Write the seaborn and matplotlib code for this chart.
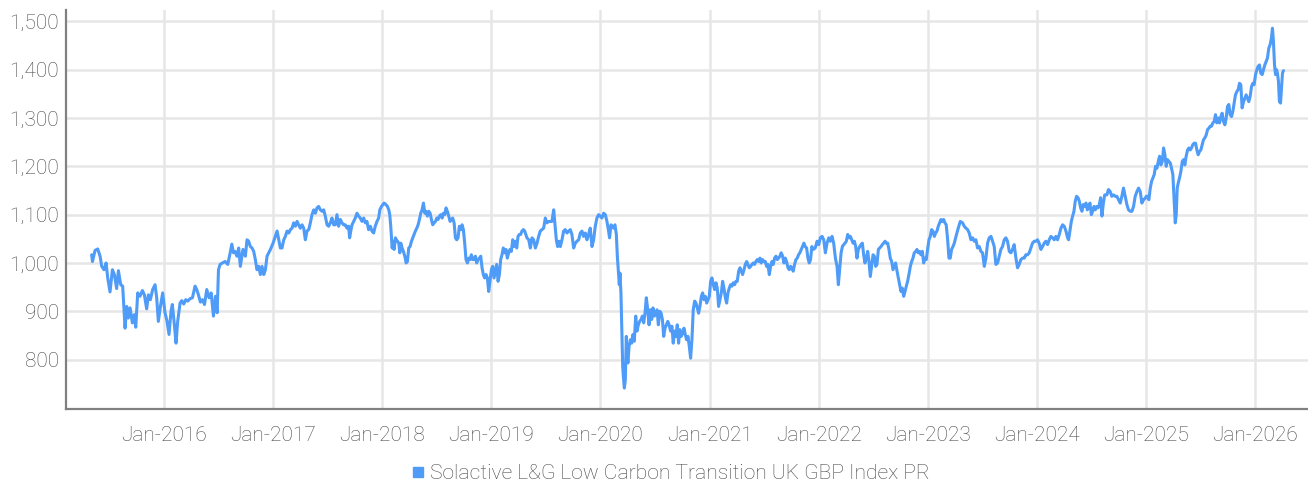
import pandas as pd
import matplotlib
matplotlib.use('Agg')
import matplotlib.pyplot as plt
import matplotlib.dates as mdates
from matplotlib.ticker import FixedLocator, FuncFormatter
from matplotlib.lines import Line2D
import seaborn as sns

# =====================
# DATA (decimal years -> index level)
# =====================
SERIES_NAME = 'Solactive L&G Low Carbon Transition UK GBP Index PR'

years_a = [2015.340, 2015.347, 2015.371, 2015.395, 2015.417, 2015.432, 2015.453, 2015.472, 2015.487, 2015.508,
           2015.530, 2015.548, 2015.569, 2015.585, 2015.606, 2015.624, 2015.646, 2015.661, 2015.676, 2015.692,
           2015.713, 2015.731, 2015.744, 2015.762, 2015.783, 2015.805, 2015.823, 2015.844, 2015.860, 2015.878,
           2015.899, 2015.921, 2015.936, 2015.951, 2015.973, 2015.991, 2016.012, 2016.031, 2016.049, 2016.067,
           2016.079, 2016.098, 2016.113, 2016.128, 2016.150, 2016.165, 2016.183, 2016.202, 2016.220, 2016.241,
           2016.263, 2016.287, 2016.302, 2016.318, 2016.336, 2016.354, 2016.373, 2016.394, 2016.415, 2016.434,
           2016.455, 2016.473, 2016.489, 2016.501, 2016.516, 2016.537, 2016.562, 2016.586, 2016.608, 2016.623,
           2016.638, 2016.653]
values_a = [1017, 1003, 1026, 1029, 1014, 993, 986, 1000, 969, 940,
            986, 976, 947, 984, 955, 952, 865, 910, 886, 907,
            876, 893, 867, 938, 931, 943, 934, 905, 934, 924,
            945, 955, 928, 879, 914, 938, 897, 879, 852, 900,
            914, 872, 834, 879, 917, 922, 915, 924, 921, 926,
            928, 952, 945, 934, 919, 924, 914, 945, 928, 938,
            890, 931, 897, 986, 997, 1000, 1003, 997, 1021, 1039,
            1021, 1024]

years_b = [2016.670, 2016.686, 2016.701, 2016.725, 2016.747, 2016.762, 2016.777, 2016.792, 2016.808, 2016.823,
           2016.838, 2016.853, 2016.869, 2016.884, 2016.899, 2016.915, 2016.930, 2016.945, 2016.960, 2016.976,
           2017.000, 2017.021, 2017.037, 2017.052, 2017.067, 2017.082, 2017.098, 2017.113, 2017.128, 2017.144,
           2017.159, 2017.174, 2017.189, 2017.205, 2017.220, 2017.235, 2017.250, 2017.266, 2017.281, 2017.296,
           2017.311, 2017.327, 2017.342, 2017.357, 2017.373, 2017.388, 2017.403, 2017.418, 2017.434, 2017.449,
           2017.464, 2017.479, 2017.495, 2017.510, 2017.525, 2017.540, 2017.556, 2017.571, 2017.586, 2017.601,
           2017.617, 2017.632, 2017.647, 2017.662, 2017.678, 2017.693, 2017.702, 2017.715, 2017.724, 2017.739,
           2017.754, 2017.769, 2017.785, 2017.800, 2017.815, 2017.831, 2017.846, 2017.861, 2017.876, 2017.892,
           2017.907, 2017.922, 2017.937, 2017.953, 2017.968]
values_b = [1014, 1031, 993, 1028, 1014, 1048, 1045, 1034, 1031, 1024,
            1007, 986, 993, 976, 993, 976, 986, 1014, 1021, 1028,
            1041, 1055, 1066, 1048, 1031, 1031, 1048, 1055, 1066, 1062,
            1069, 1072, 1083, 1076, 1086, 1079, 1072, 1079, 1072, 1048,
            1066, 1069, 1083, 1100, 1110, 1103, 1114, 1117, 1110, 1107,
            1110, 1097, 1079, 1076, 1083, 1093, 1079, 1079, 1100, 1076,
            1090, 1083, 1079, 1079, 1072, 1076, 1052, 1069, 1079, 1086,
            1093, 1103, 1097, 1093, 1086, 1093, 1083, 1086, 1069, 1076,
            1066, 1062, 1076, 1086, 1093]

years_c = [2017.979, 2017.994, 2018.018, 2018.034, 2018.049, 2018.061, 2018.070, 2018.079, 2018.092, 2018.101,
           2018.110, 2018.122, 2018.131, 2018.140, 2018.153, 2018.162, 2018.171, 2018.183, 2018.195, 2018.208,
           2018.220, 2018.232, 2018.244, 2018.256, 2018.269, 2018.281, 2018.293, 2018.305, 2018.318, 2018.330,
           2018.342, 2018.354, 2018.366, 2018.379, 2018.391, 2018.403, 2018.415, 2018.427, 2018.440, 2018.452,
           2018.464, 2018.476, 2018.489, 2018.501, 2018.513, 2018.525, 2018.537, 2018.550, 2018.562, 2018.574,
           2018.586, 2018.598, 2018.611, 2018.623, 2018.635, 2018.647, 2018.660, 2018.672, 2018.684, 2018.696,
           2018.708, 2018.721, 2018.733, 2018.745, 2018.757, 2018.769, 2018.782, 2018.794, 2018.806, 2018.818,
           2018.830, 2018.843, 2018.855, 2018.867, 2018.879, 2018.892, 2018.904, 2018.916, 2018.928, 2018.940,
           2018.953, 2018.965, 2018.977, 2018.989, 2019.002, 2019.014, 2019.026, 2019.038, 2019.050, 2019.063,
           2019.075, 2019.087, 2019.099, 2019.111, 2019.124, 2019.136, 2019.148, 2019.160, 2019.172, 2019.185,
           2019.197, 2019.209, 2019.221, 2019.234, 2019.246, 2019.258, 2019.270, 2019.282, 2019.295, 2019.307]
values_c = [1110, 1117, 1124, 1121, 1117, 1110, 1100, 1076, 1031, 1045,
            1028, 1052, 1048, 1045, 1041, 1021, 1041, 1031, 1024, 1014,
            1000, 1003, 1031, 1034, 1045, 1052, 1059, 1066, 1072, 1079,
            1090, 1103, 1110, 1124, 1103, 1107, 1097, 1107, 1103, 1090,
            1079, 1083, 1086, 1093, 1090, 1097, 1100, 1093, 1103, 1100,
            1114, 1107, 1097, 1086, 1090, 1093, 1083, 1052, 1048, 1052,
            1076, 1069, 1079, 1069, 1041, 1007, 1000, 1010, 1007, 1017,
            1007, 1007, 1014, 1000, 1007, 1010, 1014, 990, 976, 969,
            976, 969, 941, 962, 986, 993, 969, 983, 997, 962,
            976, 1007, 1017, 1031, 1021, 1028, 1010, 1021, 1028, 1024,
            1048, 1034, 1045, 1031, 1055, 1059, 1059, 1066, 1069, 1066]

years_d = [2019.328, 2019.344, 2019.359, 2019.374, 2019.389, 2019.405, 2019.420, 2019.435, 2019.450, 2019.466,
           2019.481, 2019.496, 2019.511, 2019.527, 2019.542, 2019.557, 2019.573, 2019.585, 2019.597, 2019.609,
           2019.621, 2019.634, 2019.649, 2019.664, 2019.679, 2019.695, 2019.710, 2019.725, 2019.740, 2019.756,
           2019.771, 2019.786, 2019.802, 2019.817, 2019.832, 2019.847, 2019.863, 2019.878, 2019.893, 2019.908,
           2019.924, 2019.939, 2019.954, 2019.969, 2019.985, 2020.000, 2020.015, 2020.031, 2020.046, 2020.061,
           2020.076, 2020.085, 2020.098, 2020.110, 2020.122, 2020.134, 2020.147, 2020.156, 2020.165, 2020.174,
           2020.180, 2020.189, 2020.198, 2020.205, 2020.211, 2020.220, 2020.229, 2020.238, 2020.244, 2020.253,
           2020.263, 2020.275, 2020.287, 2020.299, 2020.311, 2020.324, 2020.336, 2020.348, 2020.360, 2020.373,
           2020.385, 2020.397, 2020.409, 2020.421, 2020.434, 2020.446, 2020.458, 2020.470, 2020.482, 2020.495,
           2020.507, 2020.519, 2020.531, 2020.544, 2020.556, 2020.568, 2020.580, 2020.592, 2020.605, 2020.617,
           2020.629]
values_d = [1052, 1048, 1031, 1052, 1048, 1031, 1041, 1055, 1066, 1069,
            1072, 1093, 1083, 1086, 1086, 1086, 1110, 1079, 1048, 1034,
            1045, 1034, 1048, 1066, 1069, 1062, 1066, 1069, 1059, 1031,
            1041, 1045, 1048, 1062, 1066, 1055, 1062, 1048, 1059, 1072,
            1034, 1048, 1076, 1093, 1100, 1097, 1093, 1103, 1100, 1086,
            1066, 1052, 1079, 1076, 1072, 1079, 1059, 1014, 986, 955,
            979, 938, 855, 786, 765, 741, 758, 848, 814, 793,
            827, 841, 834, 852, 838, 890, 859, 872, 879, 883,
            890, 876, 896, 928, 903, 872, 903, 883, 907, 890,
            896, 903, 872, 900, 896, 883, 848, 865, 872, 879,
            872]

years_e = [2020.643, 2020.655, 2020.667, 2020.679, 2020.692, 2020.704, 2020.716, 2020.728, 2020.740, 2020.753,
           2020.765, 2020.777, 2020.789, 2020.802, 2020.814, 2020.826, 2020.838, 2020.850, 2020.863, 2020.875,
           2020.887, 2020.899, 2020.911, 2020.924, 2020.936, 2020.948, 2020.960, 2020.973, 2020.985, 2020.997,
           2021.009, 2021.021, 2021.034, 2021.046, 2021.058, 2021.070, 2021.082, 2021.095, 2021.107, 2021.119,
           2021.131, 2021.144, 2021.156, 2021.168, 2021.180, 2021.192, 2021.205, 2021.217, 2021.229, 2021.241,
           2021.253, 2021.266, 2021.278, 2021.290, 2021.302, 2021.315, 2021.327, 2021.339, 2021.351, 2021.363,
           2021.376, 2021.388, 2021.400, 2021.412, 2021.424, 2021.437, 2021.449, 2021.461, 2021.473, 2021.485,
           2021.498, 2021.510, 2021.522, 2021.534, 2021.547, 2021.559, 2021.571, 2021.583, 2021.595, 2021.608,
           2021.620, 2021.632, 2021.644, 2021.656, 2021.669, 2021.681, 2021.693, 2021.705, 2021.718, 2021.730,
           2021.742, 2021.754, 2021.766, 2021.779, 2021.791, 2021.803, 2021.815, 2021.827, 2021.840, 2021.852,
           2021.864, 2021.876, 2021.889, 2021.901, 2021.913, 2021.925, 2021.937, 2021.950, 2021.968]
values_e = [859, 869, 834, 859, 848, 872, 834, 862, 848, 855,
            865, 852, 841, 848, 827, 803, 841, 903, 921, 917,
            907, 896, 910, 931, 938, 924, 931, 917, 924, 931,
            962, 969, 955, 945, 959, 948, 910, 924, 938, 962,
            948, 928, 917, 938, 948, 955, 952, 959, 955, 962,
            962, 983, 990, 983, 976, 986, 997, 1003, 997, 990,
            993, 997, 1000, 997, 1003, 1007, 1003, 1010, 1000, 1007,
            1003, 1003, 993, 997, 976, 993, 1003, 997, 1010, 1014,
            1007, 1010, 1014, 1021, 1014, 1000, 1010, 1003, 990, 986,
            993, 990, 983, 997, 1007, 1010, 1017, 1021, 1028, 1034,
            1041, 1034, 1031, 1010, 1000, 1007, 1034, 1028, 1031]

years_f = [2021.985, 2022.000, 2022.015, 2022.031, 2022.046, 2022.061, 2022.076, 2022.092, 2022.107, 2022.122,
           2022.137, 2022.153, 2022.168, 2022.180, 2022.192, 2022.205, 2022.217, 2022.229, 2022.241, 2022.253,
           2022.266, 2022.278, 2022.290, 2022.302, 2022.315, 2022.327, 2022.339, 2022.351, 2022.363, 2022.376,
           2022.388, 2022.400, 2022.412, 2022.424, 2022.437, 2022.449, 2022.461, 2022.473, 2022.485, 2022.498,
           2022.510, 2022.522, 2022.534, 2022.547, 2022.559, 2022.571, 2022.583, 2022.595, 2022.608, 2022.620,
           2022.632, 2022.644, 2022.656, 2022.669, 2022.681, 2022.693, 2022.705, 2022.718, 2022.730, 2022.742,
           2022.754, 2022.766, 2022.779, 2022.791, 2022.803, 2022.815, 2022.827, 2022.840, 2022.852, 2022.864,
           2022.876, 2022.889, 2022.901, 2022.913, 2022.925, 2022.937, 2022.950, 2022.962, 2022.974, 2022.986,
           2022.998, 2023.011, 2023.023, 2023.035, 2023.047, 2023.060, 2023.072, 2023.084, 2023.096, 2023.108,
           2023.121, 2023.133, 2023.145, 2023.157, 2023.169, 2023.182, 2023.194, 2023.206, 2023.218, 2023.231,
           2023.243, 2023.255, 2023.267, 2023.279, 2023.298]
values_f = [1045, 1038, 1052, 1055, 1048, 1021, 1041, 1052, 1045, 1055,
            1041, 1010, 993, 955, 986, 1021, 1034, 1038, 1041, 1045,
            1059, 1052, 1055, 1048, 1041, 1045, 1034, 1010, 1028, 1034,
            1038, 1041, 1017, 1000, 1010, 1024, 1003, 972, 993, 1017,
            1014, 993, 997, 1028, 1031, 1034, 1038, 1041, 1045, 1041,
            1041, 1028, 1010, 1003, 986, 993, 1000, 983, 969, 955,
            941, 948, 931, 941, 952, 962, 976, 993, 1003, 1010,
            1021, 1024, 1028, 1021, 1024, 1017, 1024, 1000, 1010, 1007,
            1028, 1048, 1055, 1069, 1066, 1055, 1062, 1066, 1076, 1083,
            1090, 1086, 1090, 1083, 1079, 1048, 1010, 1010, 1028, 1034,
            1041, 1052, 1062, 1072, 1086]

years_g = [2023.319, 2023.334, 2023.350, 2023.365, 2023.380, 2023.395, 2023.411, 2023.426, 2023.441, 2023.456,
           2023.472, 2023.487, 2023.502, 2023.518, 2023.533, 2023.548, 2023.563, 2023.579, 2023.594, 2023.609,
           2023.624, 2023.640, 2023.655, 2023.670, 2023.685, 2023.701, 2023.716, 2023.731, 2023.747, 2023.762,
           2023.777, 2023.792, 2023.808, 2023.823, 2023.838, 2023.853, 2023.869, 2023.884, 2023.899, 2023.915,
           2023.930, 2023.945, 2023.960, 2023.976, 2023.991, 2024.006, 2024.021, 2024.037, 2024.052, 2024.067,
           2024.082, 2024.098, 2024.113, 2024.128, 2024.144, 2024.159, 2024.174, 2024.189, 2024.205, 2024.220,
           2024.235, 2024.250, 2024.266, 2024.281, 2024.290, 2024.302, 2024.315, 2024.327, 2024.339, 2024.351,
           2024.363, 2024.376, 2024.388, 2024.400, 2024.412, 2024.424, 2024.437, 2024.449, 2024.461, 2024.473,
           2024.485, 2024.498, 2024.510, 2024.522, 2024.534, 2024.547, 2024.559, 2024.571, 2024.583, 2024.595,
           2024.608, 2024.620, 2024.632]
values_g = [1083, 1076, 1072, 1069, 1062, 1048, 1052, 1045, 1048, 1031,
            1034, 1024, 1021, 993, 1010, 1041, 1052, 1055, 1045, 1034,
            997, 1000, 1014, 1028, 1034, 1048, 1052, 1045, 1024, 1021,
            1028, 1038, 1010, 990, 997, 1007, 1010, 1010, 1017, 1017,
            1021, 1031, 1041, 1045, 1045, 1048, 1041, 1028, 1034, 1041,
            1045, 1038, 1048, 1055, 1052, 1048, 1055, 1048, 1059, 1072,
            1079, 1076, 1066, 1052, 1048, 1066, 1086, 1097, 1107, 1128,
            1138, 1135, 1128, 1114, 1107, 1121, 1117, 1124, 1110, 1114,
            1124, 1100, 1107, 1117, 1110, 1117, 1114, 1121, 1135, 1097,
            1124, 1141, 1141]

years_h = [2024.640, 2024.655, 2024.670, 2024.685, 2024.701, 2024.716, 2024.731, 2024.747, 2024.762, 2024.777,
           2024.792, 2024.808, 2024.823, 2024.838, 2024.853, 2024.869, 2024.884, 2024.899, 2024.915, 2024.930,
           2024.945, 2024.960, 2024.976, 2024.991, 2025.000, 2025.012, 2025.024, 2025.037, 2025.049, 2025.061,
           2025.073, 2025.085, 2025.098, 2025.110, 2025.122, 2025.134, 2025.147, 2025.159, 2025.171, 2025.183,
           2025.195, 2025.208, 2025.220, 2025.232, 2025.244, 2025.256, 2025.266, 2025.275, 2025.284, 2025.293,
           2025.305, 2025.318, 2025.330, 2025.342, 2025.354, 2025.366, 2025.379, 2025.391, 2025.403, 2025.415,
           2025.427, 2025.440, 2025.452, 2025.464, 2025.476, 2025.489, 2025.501, 2025.513, 2025.525, 2025.537,
           2025.550, 2025.562, 2025.574, 2025.586, 2025.598, 2025.611, 2025.623, 2025.635, 2025.647, 2025.660,
           2025.672, 2025.684, 2025.696, 2025.708, 2025.721, 2025.733, 2025.745, 2025.757, 2025.769, 2025.782,
           2025.794, 2025.806, 2025.818, 2025.831, 2025.843, 2025.855, 2025.867, 2025.879, 2025.892, 2025.904,
           2025.916, 2025.928, 2025.940, 2025.953, 2025.965, 2025.977, 2025.989, 2026.002, 2026.014, 2026.026,
           2026.038, 2026.050, 2026.063, 2026.075, 2026.087, 2026.099, 2026.111, 2026.124, 2026.136, 2026.148,
           2026.157, 2026.166, 2026.176, 2026.185, 2026.194, 2026.203, 2026.212, 2026.221, 2026.231, 2026.240,
           2026.249, 2026.258]
values_h = [1141, 1152, 1148, 1138, 1141, 1138, 1138, 1131, 1124, 1138,
            1155, 1138, 1121, 1110, 1107, 1107, 1117, 1138, 1148, 1155,
            1148, 1124, 1131, 1134, 1138, 1138, 1131, 1155, 1169, 1176,
            1183, 1200, 1196, 1210, 1221, 1203, 1210, 1238, 1224, 1200,
            1214, 1210, 1207, 1196, 1183, 1127, 1083, 1100, 1155, 1165,
            1176, 1190, 1210, 1214, 1203, 1221, 1234, 1238, 1234, 1238,
            1245, 1248, 1248, 1234, 1224, 1231, 1234, 1245, 1255, 1259,
            1265, 1276, 1279, 1283, 1283, 1290, 1293, 1307, 1290, 1300,
            1290, 1303, 1310, 1293, 1286, 1300, 1324, 1328, 1307, 1303,
            1314, 1331, 1348, 1355, 1359, 1372, 1369, 1321, 1334, 1341,
            1348, 1341, 1334, 1345, 1365, 1372, 1369, 1390, 1400, 1407,
            1410, 1393, 1390, 1400, 1410, 1417, 1424, 1445, 1452, 1466,
            1486, 1459, 1410, 1390, 1400, 1393, 1376, 1334, 1331, 1362,
            1393, 1398]

y_ticks = [800, 900, 1000, 1100, 1200, 1300, 1400, 1500]

# =====================
# STYLE
# =====================
LINE_COLOR = '#4e9bf8'
GRID_COLOR = '#e6e6e6'
AXIS_COLOR = '#808080'
TEXT_COLOR = '#474747'


def year_to_date(y):
    yr = int(y)
    start = pd.Timestamp(year=yr, month=1, day=1)
    nxt = pd.Timestamp(year=yr + 1, month=1, day=1)
    return start + (nxt - start) * (y - yr)


years = years_a + years_b + years_c + years_d + years_e + years_f + years_g + years_h
values = values_a + values_b + values_c + values_d + values_e + values_f + values_g + values_h
df = pd.DataFrame({'date': [year_to_date(y) for y in years], 'value': values})

sns.set_style('white')
plt.rcParams['font.family'] = ['Roboto', 'DejaVu Sans']
plt.rcParams['font.weight'] = 'light'

fig = plt.figure(figsize=(13.08, 4.92), dpi=100)
ax = fig.add_axes([0.0505, 0.169, 0.9495, 0.811])

sns.lineplot(data=df, x='date', y='value', ax=ax, color=LINE_COLOR,
             linewidth=2.2, legend=False)

ax.set_xlim(year_to_date(2015.105), year_to_date(2026.483))
ax.set_ylim(698, 1524)
ax.xaxis.set_major_locator(mdates.YearLocator())
ax.xaxis.set_major_formatter(mdates.DateFormatter('%b-%Y'))
ax.yaxis.set_major_locator(FixedLocator(y_ticks))
ax.yaxis.set_major_formatter(FuncFormatter(lambda v, p: f'{v:,.0f}'))

ax.grid(True, color=GRID_COLOR, linewidth=1.8)
ax.set_axisbelow(True)
for side in ['top', 'right']:
    ax.spines[side].set_visible(False)
for side in ['left', 'bottom']:
    ax.spines[side].set_color(AXIS_COLOR)
    ax.spines[side].set_linewidth(1.6)
ax.tick_params(axis='both', length=0, labelsize=15, labelcolor=TEXT_COLOR)
ax.tick_params(axis='x', pad=12)
ax.tick_params(axis='y', pad=5)
ax.set_xlabel('')
ax.set_ylabel('')

handle = Line2D([], [], marker='s', linestyle='none', color=LINE_COLOR, markersize=7.5)
fig.legend([handle], [SERIES_NAME], loc='center', bbox_to_anchor=(0.511, 0.037),
           frameon=False, fontsize=15.2, labelcolor=TEXT_COLOR,
           handletextpad=0.05, handlelength=1.0, borderpad=0)

fig.savefig('out.png', dpi=100)
